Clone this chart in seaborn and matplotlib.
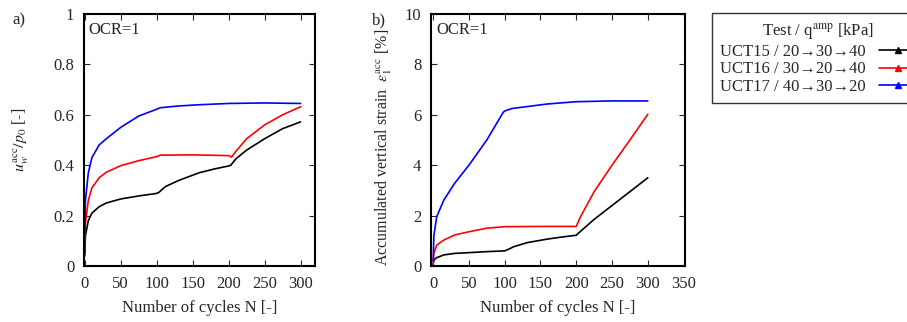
import pandas as pd
import seaborn as sns
import matplotlib.pyplot as plt
from matplotlib.lines import Line2D

# Test names and colours
tests = ["UCT15 / 20→30→40", "UCT16 / 30→20→40", "UCT17 / 40→30→20"]
colors = ["black", "red", "blue"]

# a) pore water pressure ratio u_w^acc / p_0 (read off the figure)
n_pw_15 = [0, 1, 5, 10, 20, 30, 50, 75, 100, 103, 112, 131, 159, 180, 200, 203, 210, 225, 250, 275, 300]
pw_15 = [0.04, 0.12, 0.18, 0.21, 0.235, 0.25, 0.266, 0.278, 0.288, 0.292, 0.315, 0.34, 0.37, 0.385, 0.397, 0.40, 0.425, 0.46, 0.505, 0.545, 0.572]
n_pw_16 = [0, 1, 5, 10, 20, 30, 50, 75, 100, 105, 150, 200, 204, 210, 225, 250, 275, 300]
pw_16 = [0.05, 0.17, 0.26, 0.31, 0.35, 0.372, 0.398, 0.418, 0.434, 0.44, 0.441, 0.438, 0.432, 0.455, 0.505, 0.56, 0.60, 0.632]
n_pw_17 = [0, 1, 5, 10, 20, 30, 50, 75, 100, 105, 130, 160, 200, 250, 300]
pw_17 = [0.05, 0.26, 0.37, 0.43, 0.48, 0.505, 0.55, 0.595, 0.622, 0.628, 0.635, 0.64, 0.645, 0.647, 0.645]

# b) accumulated vertical strain eps_1^acc [%]
n_eps_15 = [0, 1, 5, 15, 30, 50, 75, 100, 105, 113, 132, 160, 180, 200, 205, 225, 250, 275, 300]
eps_15 = [0.05, 0.24, 0.33, 0.44, 0.5, 0.53, 0.57, 0.6, 0.66, 0.77, 0.93, 1.07, 1.15, 1.22, 1.35, 1.85, 2.4, 2.95, 3.5]
n_eps_16 = [0, 1, 5, 15, 30, 50, 75, 100, 150, 200, 205, 225, 250, 275, 300]
eps_16 = [0.1, 0.5, 0.83, 1.03, 1.23, 1.36, 1.5, 1.56, 1.57, 1.57, 1.9, 2.95, 4.0, 5.0, 6.02]
n_eps_17 = [0, 1, 5, 15, 30, 50, 75, 98, 100, 110, 160, 200, 250, 300]
eps_17 = [0.2, 1.2, 1.96, 2.62, 3.28, 4.0, 5.0, 6.1, 6.15, 6.25, 6.43, 6.52, 6.55, 6.55]


def long_df(pairs):
    frames = []
    for name, (n, v) in zip(tests, pairs):
        frames.append(pd.DataFrame({"N": n, "value": v, "Test": name}))
    return pd.concat(frames, ignore_index=True)


df_pw = long_df([(n_pw_15, pw_15), (n_pw_16, pw_16), (n_pw_17, pw_17)])
df_eps = long_df([(n_eps_15, eps_15), (n_eps_16, eps_16), (n_eps_17, eps_17)])

sns.set_style("ticks")
plt.rcParams["font.family"] = ["Liberation Serif", "DejaVu Serif"]
plt.rcParams["mathtext.fontset"] = "stix"

palette = dict(zip(tests, colors))

fig = plt.figure(figsize=(9.07, 3.22), dpi=100)
ax1 = fig.add_axes([84 / 907, 1 - 266 / 322, 231 / 907, 252 / 322])
ax2 = fig.add_axes([431 / 907, 1 - 266 / 322, 254 / 907, 252 / 322])

sns.lineplot(data=df_pw, x="N", y="value", hue="Test", palette=palette,
             ax=ax1, legend=False, linewidth=1.2, estimator=None, sort=False)
sns.lineplot(data=df_eps, x="N", y="value", hue="Test", palette=palette,
             ax=ax2, legend=False, linewidth=1.2, estimator=None, sort=False)

ax1.set_xlim(-1, 320)
ax1.set_ylim(0, 1)
ax1.set_xticks([0, 50, 100, 150, 200, 250, 300])
ax1.set_yticks([0, 0.2, 0.4, 0.6, 0.8, 1])
ax1.set_yticklabels(["0", "0.2", "0.4", "0.6", "0.8", "1"])
ax1.set_ylabel(r"$u_w^{\mathrm{acc}}/p_0$ [-]", fontsize=11.5)
ax1.yaxis.set_label_coords(-0.23, 0.5)

ax2.set_xlim(-3, 352)
ax2.set_ylim(0, 10)
ax2.set_xticks([0, 50, 100, 150, 200, 250, 300, 350])
ax2.set_yticks([0, 2, 4, 6, 8, 10])
ax2.set_ylabel(r"Accumulated vertical strain  $\varepsilon_1^{\mathrm{acc}}$ [%]", fontsize=11.5)
ax2.yaxis.set_label_coords(-0.145, 0.47)

for ax in (ax1, ax2):
    ax.set_xlabel("Number of cycles N [-]", fontsize=12, labelpad=6)
    ax.tick_params(direction="in", top=True, right=True, labelsize=12, length=4, pad=7)
    for sp in ax.spines.values():
        sp.set_linewidth(1.5)
        sp.set_color("black")
    ax.text(0.02, 0.97, "OCR=1", transform=ax.transAxes, ha="left", va="top", fontsize=12)

fig.text(12 / 907, 1 - 20 / 322, "a)", fontsize=12, ha="left", va="center")
fig.text(372 / 907, 1 - 20 / 322, "b)", fontsize=12, ha="left", va="center")

handles = [Line2D([], [], color=c, linewidth=1.2, marker="^", markersize=4) for c in colors]
leg = fig.legend(handles, tests, title=r"Test / q$^{\mathrm{amp}}$ [kPa]",
                 loc="upper left", bbox_to_anchor=(712 / 907, 1 - 13 / 322),
                 markerfirst=False, numpoints=1, handlelength=2.2, fontsize=12,
                 title_fontsize=12, frameon=True, fancybox=False, borderpad=0.5,
                 labelspacing=0.1, handletextpad=0.8, borderaxespad=0)
leg.get_frame().set_edgecolor("black")
leg.get_frame().set_linewidth(1.0)

fig.savefig("out.png", dpi=100)
